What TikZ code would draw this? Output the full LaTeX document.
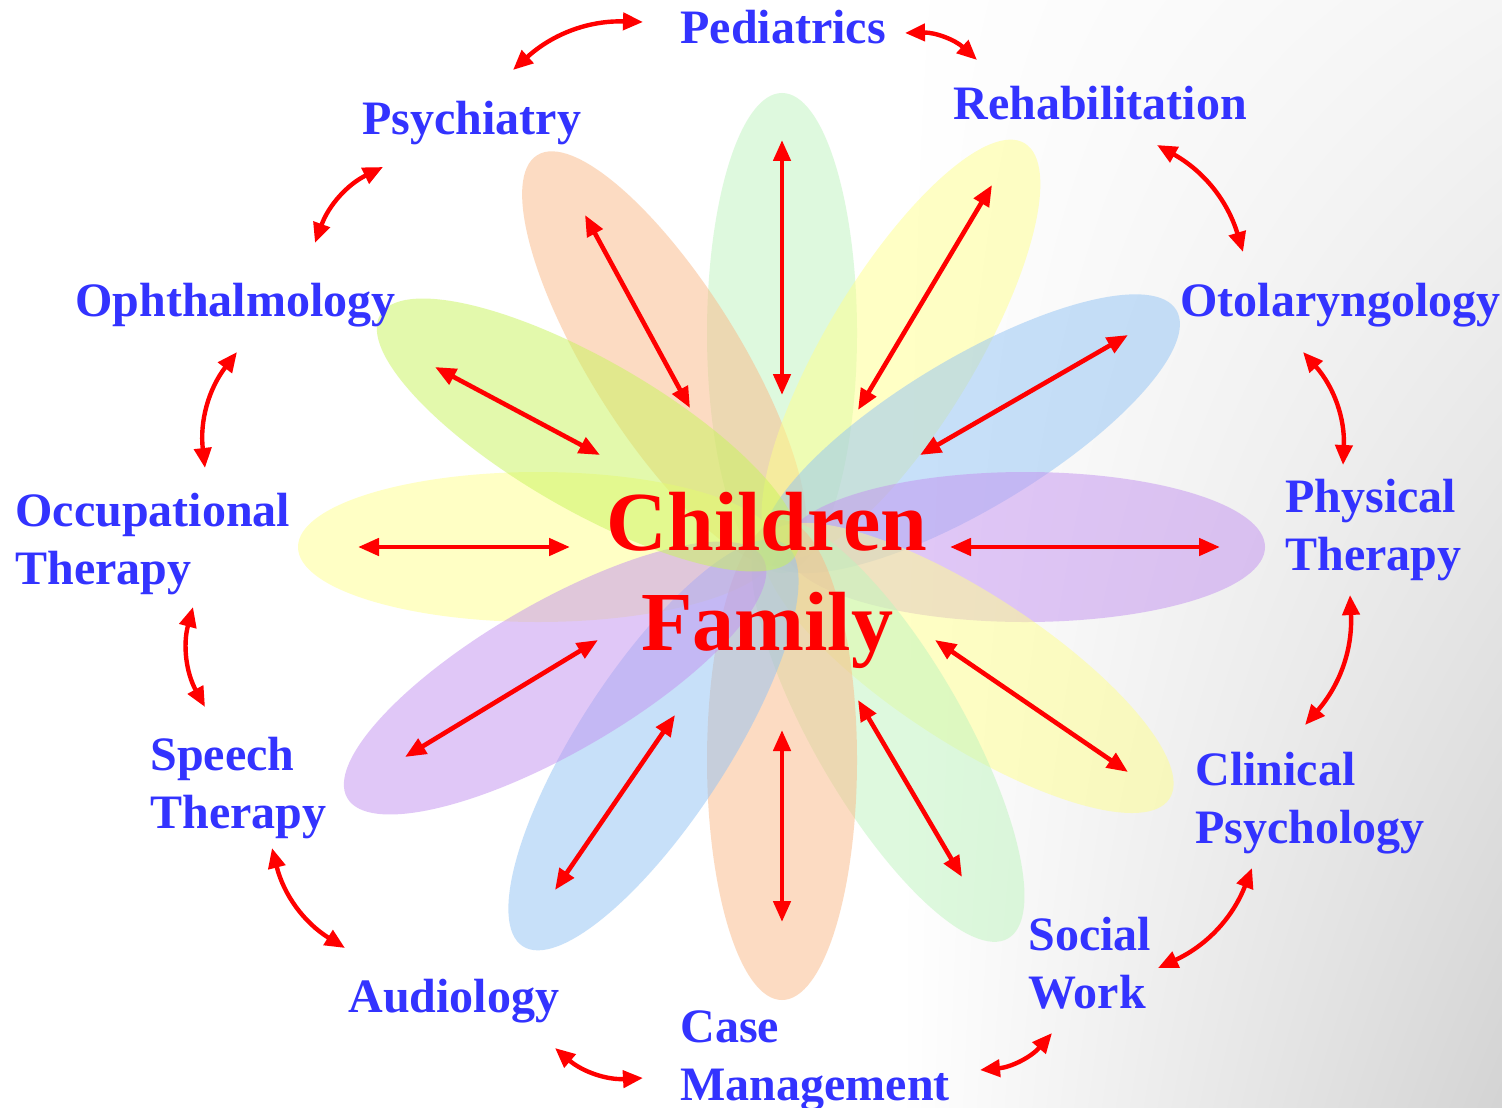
\documentclass[tikz,border=0pt]{standalone}
\usepackage{fontspec}
\setmainfont{Liberation Serif}
\usetikzlibrary{arrows.meta,shadings}
\definecolor{lblue}{RGB}{51,51,255}
\definecolor{pgreen}{RGB}{190,245,190}
\definecolor{pyellow}{RGB}{255,255,140}
\definecolor{pblue}{RGB}{145,195,245}
\definecolor{ppurple}{RGB}{195,145,240}
\definecolor{porange}{RGB}{250,185,135}
\definecolor{pyg}{RGB}{200,245,90}
\begin{document}
\begin{tikzpicture}[x=0.5pt,y=-0.5pt,
  lbl/.style={text=lblue, font=\fontsize{24}{29}\selectfont\bfseries, inner sep=0pt, anchor=base west, align=left},
  ctrtext/.style={text=red, font=\fontsize{42}{50}\selectfont\bfseries, inner sep=0pt, anchor=base, align=center},
  petal/.style={fill=#1, fill opacity=0.5},
  inarrow/.style={red, line width=2.3pt, {Triangle[length=10.5pt,width=8.5pt]}-{Triangle[length=10.5pt,width=8.5pt]}},
  outarrow/.style={red, line width=2.2pt, {Triangle[length=10pt,width=8.5pt]}-{Triangle[length=10pt,width=8.5pt]}, bend left=22}]
\useasboundingbox (0,0) rectangle (1502,1107);
\fill[white] (0,0) rectangle (1502,1107);
% faint photographic background on the right
\shade[upper left=white, upper right=black!4, lower left=white, lower right=black!17] (900,0) rectangle (1502,1107);

% petals
\begin{scope}[shift={(782,547)}]
\fill[petal=pgreen, rotate=90] (214,0) ellipse [x radius=240, y radius=75];
\fill[petal=porange, rotate=122] (222,0) ellipse [x radius=240, y radius=75];
\fill[petal=pyellow, rotate=59] (231,0) ellipse [x radius=240, y radius=75];
\fill[petal=pblue, rotate=31] (220,0) ellipse [x radius=240, y radius=75];
\fill[petal=ppurple, rotate=0] (243,0) ellipse [x radius=240, y radius=75];
\fill[petal=pyellow, rotate=180] (244,0) ellipse [x radius=240, y radius=75];
\fill[petal=pyellow, rotate=-33] (222,0) ellipse [x radius=240, y radius=75];
\fill[petal=pgreen, rotate=-60] (212,0) ellipse [x radius=240, y radius=75];
\fill[petal=porange, rotate=-90] (213,0) ellipse [x radius=240, y radius=75];
\fill[petal=pblue, rotate=-123] (236,0) ellipse [x radius=240, y radius=75];
\fill[petal=ppurple, rotate=-150] (262,0) ellipse [x radius=240, y radius=75];
\fill[petal=pyg, rotate=150] (224,0) ellipse [x radius=240, y radius=75];
\end{scope}

% center text (base = last line)
\node[ctrtext] (ctr) at (767,650) {Children\\Family};

% outer labels (base = baseline of last line)
\node[lbl] (ped) at (680,44) {Pediatrics};
\node[lbl] (reh) at (953,120) {Rehabilitation};
\node[lbl] (oto) at (1180,316) {Otolaryngology};
\node[lbl] (phy) at (1285,570) {Physical\\Therapy};
\node[lbl] (cli) at (1195,843) {Clinical\\Psychology};
\node[lbl] (soc) at (1028,1008) {Social\\Work};
\node[lbl] (cas) at (680,1100) {Case\\Management};
\node[lbl] (aud) at (348,1012) {Audiology};
\node[lbl] (spe) at (150,828) {Speech\\Therapy};
\node[lbl] (occ) at (15,584) {Occupational\\Therapy};
\node[lbl] (oph) at (75,316) {Ophthalmology};
\node[lbl] (psy) at (362,135) {Psychiatry};

% inner arrow ends
\coordinate (i1a) at (782,395);  \coordinate (i1b) at (782,140);
\coordinate (i2a) at (858,410);  \coordinate (i2b) at (992,185);
\coordinate (i3a) at (920,455);  \coordinate (i3b) at (1128,335);
\coordinate (i4a) at (950,547);  \coordinate (i4b) at (1220,547);
\coordinate (i5a) at (935,640);  \coordinate (i5b) at (1128,772);
\coordinate (i6a) at (858,700);  \coordinate (i6b) at (962,877);
\coordinate (i7a) at (782,730);  \coordinate (i7b) at (782,922);
\coordinate (i8a) at (675,715);  \coordinate (i8b) at (555,890);
\coordinate (i9a) at (598,640);  \coordinate (i9b) at (405,757);
\coordinate (i10a) at (570,547); \coordinate (i10b) at (358,547);
\coordinate (i11a) at (600,455); \coordinate (i11b) at (435,367);
\coordinate (i12a) at (690,408); \coordinate (i12b) at (585,215);
\foreach \k in {1,...,12} \draw[inarrow] (i\k a) -- (i\k b);

% outer arrow ends
\coordinate (o1a) at (513,70);    \coordinate (o1b) at (643,22);
\coordinate (o2a) at (905,33);    \coordinate (o2b) at (977,60);
\coordinate (o3a) at (1157,145);  \coordinate (o3b) at (1243,252);
\coordinate (o4a) at (1303,352);  \coordinate (o4b) at (1343,465);
\coordinate (o5a) at (1350,595);  \coordinate (o5b) at (1305,725);
\coordinate (o6a) at (1252,868);  \coordinate (o6b) at (1158,968);
\coordinate (o7a) at (1052,1033); \coordinate (o7b) at (980,1070);
\coordinate (o8a) at (643,1078);  \coordinate (o8b) at (555,1048);
\coordinate (o9a) at (345,948);   \coordinate (o9b) at (272,848);
\coordinate (o10a) at (205,707);  \coordinate (o10b) at (193,607);
\coordinate (o11a) at (205,468);  \coordinate (o11b) at (237,352);
\coordinate (o12a) at (315,243);  \coordinate (o12b) at (383,167);
\foreach \k in {1,...,12} \draw[outarrow] (o\k a) to (o\k b);
\end{tikzpicture}
\end{document}
